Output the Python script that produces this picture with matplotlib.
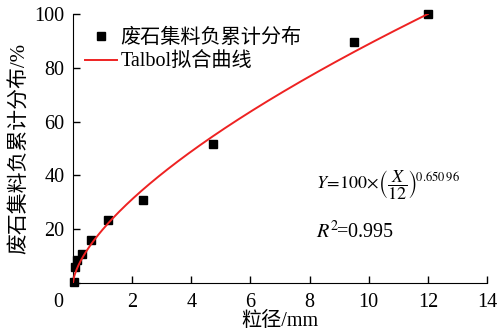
import matplotlib
matplotlib.use("Agg")
import matplotlib.pyplot as plt
import matplotlib.transforms as mtransforms
import numpy as np

plt.rcParams['font.family'] = ['Liberation Serif', 'Noto Sans CJK SC']
plt.rcParams['mathtext.fontset'] = 'stix'

# sieve size (mm) and cumulative passing (%)
size_mm = [0.03, 0.075, 0.15, 0.3, 0.6, 1.18, 2.36, 4.75, 9.5, 12.0]
passing = [0.4, 5.8, 8.7, 10.9, 15.9, 23.6, 30.9, 51.6, 89.6, 100.0]

d_max = 12.0
n_exp = 0.65096
x_ticks = [0, 2, 4, 6, 8, 10, 12, 14]
y_ticks = [0, 20, 40, 60, 80, 100]

fig = plt.figure(figsize=(4.97, 3.35), dpi=100)
ax = fig.add_axes([0.1469, 0.1552, 0.833, 0.8030])

xf = np.linspace(0, d_max, 400)
yf = 100 * (xf / d_max) ** n_exp

ax.plot(size_mm, passing, 's', color='k', markersize=5.5, clip_on=False,
        label='废石集料负累计分布', zorder=3)
ax.plot(xf, yf, '-', color='#ee2222', lw=1.4, label='Talbol拟合曲线', zorder=4)

ax.set_xlim(0, 14)
ax.set_ylim(0, 100)
ax.set_xticks(x_ticks)
ax.set_yticks(y_ticks)
ax.set_yticklabels([''] + [str(v) for v in y_ticks[1:]])
ax.spines['top'].set_visible(False)
ax.spines['right'].set_visible(False)
ax.tick_params(direction='in', length=5, width=1, labelsize=14.5)
ax.tick_params(axis='x', pad=7)
ax.tick_params(axis='y', pad=6)

# shared origin label shifted left
lab0 = ax.get_xticklabels()[0]
lab0.set_transform(lab0.get_transform() +
                   mtransforms.ScaledTranslation(-0.15, 0, fig.dpi_scale_trans))

ax.set_xlabel('粒径/mm', fontsize=14.5, labelpad=0)
ax.set_ylabel('废石集料负累计分布/%', fontsize=15, labelpad=3)

ax.legend(loc='upper left', bbox_to_anchor=(0.0, 0.99), frameon=False,
          fontsize=14.5, handlelength=1.6, handletextpad=0.15,
          labelspacing=0.25, borderaxespad=0.2)

ax.text(0.586, 0.364,
        r'$Y\!=\!100\!\times\!\left(\dfrac{X}{12}\right)^{\!0.650\,96}$',
        transform=ax.transAxes, fontsize=13, va='center', ha='left')
ax.text(0.586, 0.19, r'$R^2\!$=0.995', transform=ax.transAxes,
        fontsize=14.5, va='center', ha='left')

fig.savefig('out.png', dpi=100)
